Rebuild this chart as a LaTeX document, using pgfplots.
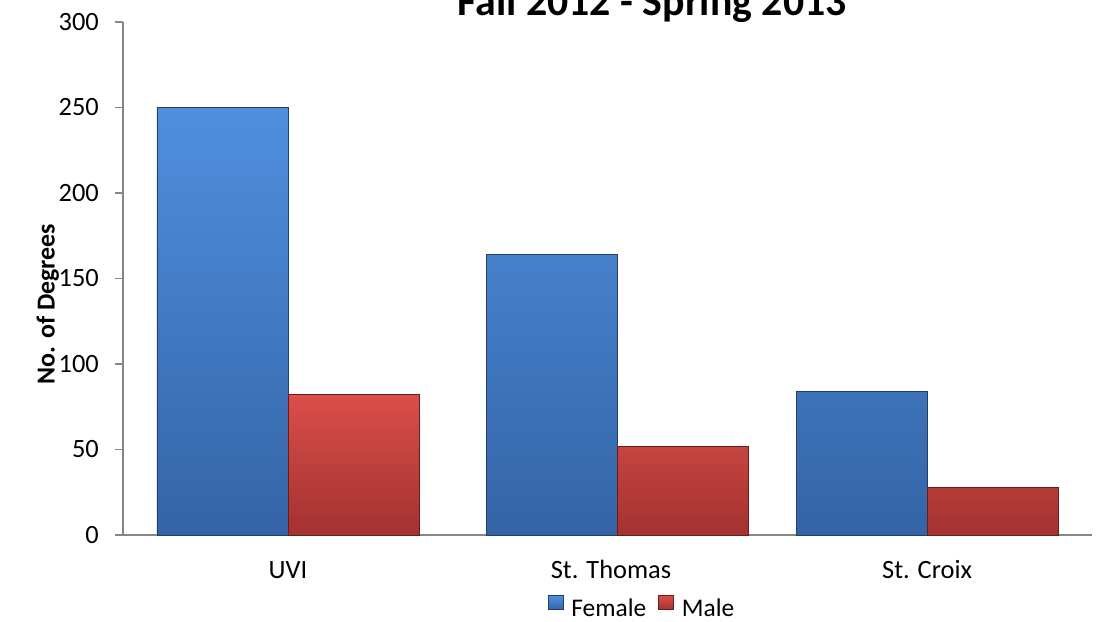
\documentclass[border=0pt]{standalone}
\usepackage{pgfplots}
\pgfplotsset{compat=1.18}
\usepackage{fontspec}
\setmainfont{Carlito}
\definecolor{bluetop}{RGB}{80,143,222}
\definecolor{bluebot}{RGB}{52,100,166}
\definecolor{blueedge}{RGB}{35,62,105}
\definecolor{redtop}{RGB}{218,78,74}
\definecolor{redbot}{RGB}{163,50,48}
\definecolor{rededge}{RGB}{105,28,26}
\definecolor{axisgray}{RGB}{134,134,134}
\begin{document}
\begin{tikzpicture}
\begin{axis}[
  at={(123bp,87bp)}, anchor=south west,
  scale only axis, width=969bp, height=513bp,
  clip=false,
  xmin=-0.516, xmax=2.516, ymin=0, ymax=300,
  ytick={0,50,...,300},
  xtick={0,1.011,2}, xticklabels={UVI,St. Thomas,St. Croix},
  axis x line*=bottom, axis y line*=left,
  axis line style={axisgray, line width=1.8bp},
  xtick style={draw=none},
  ytick style={axisgray, line width=1.8bp},
  tick align=outside, major tick length=8bp,
  ybar=0pt, bar width=131bp,
  /pgf/number format/assume math mode=true,
  ticklabel style={font=\fontsize{26.5}{31}\selectfont},
  yticklabel style={anchor=east, inner sep=0pt, xshift=-16bp},
  xticklabel style={anchor=base, inner sep=0pt, yshift=-35bp},
  ylabel={No. of Degrees},
  ylabel style={at={(axis description cs:-0.0775,0.45)}, anchor=center, rotate=0, font=\fontsize{26}{31}\selectfont\bfseries},
  legend style={at={(axis description cs:0.5346,-0.140)}, anchor=center, draw=none, fill=none,
    legend columns=2, font=\fontsize{25.5}{30}\selectfont,
    nodes={inner sep=0pt},
    /tikz/every odd column/.append style={column sep=8bp},
    /tikz/every even column/.append style={column sep=12bp}},
  legend image code/.code={\path[#1] (0bp,-1bp) rectangle (15bp,13bp);},
]
\addplot[top color=bluetop, bottom color=bluebot, draw=blueedge, line width=0.6bp]
  coordinates {(0,250) (1.03,164) (2,84)};
\addplot[top color=redtop, bottom color=redbot, draw=rededge, line width=0.6bp]
  coordinates {(0,82) (1.03,52) (2,28)};
\legend{Female,Male}
\node[anchor=base, inner sep=0pt, font=\fontsize{42}{50}\selectfont\bfseries]
  at (axis description cs:0.546,1.0136) {Fall 2012 - Spring 2013};
\end{axis}
\pgfresetboundingbox
\path (0,0) rectangle (1096bp,622bp);
\end{tikzpicture}
\end{document}
